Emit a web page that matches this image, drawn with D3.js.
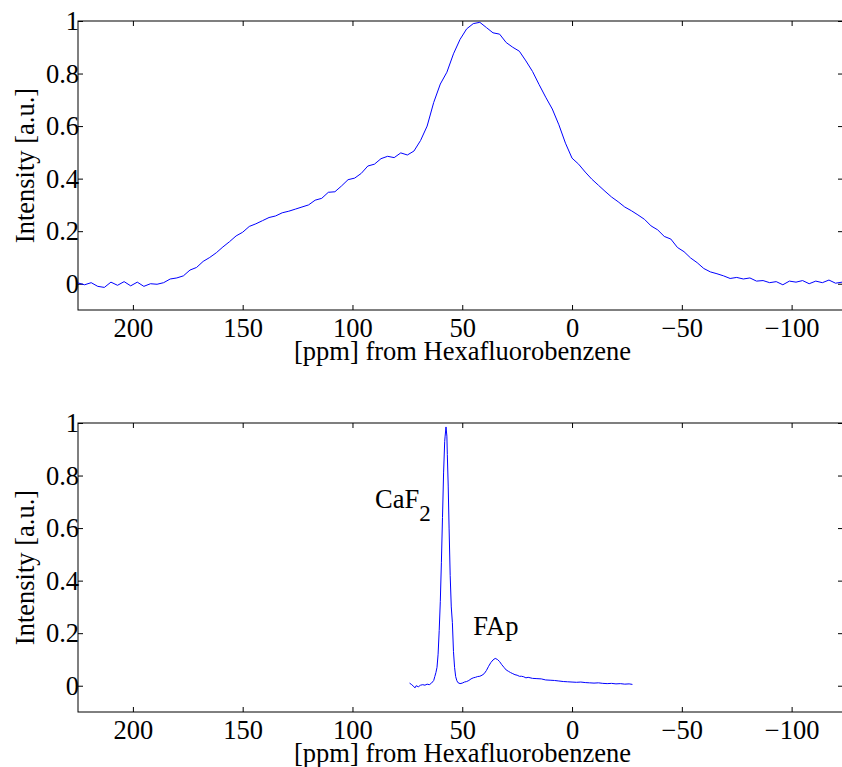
<!DOCTYPE html>
<html>
<head>
<meta charset="utf-8">
<script src="https://cdn.jsdelivr.net/npm/d3@7"></script>
<style>
  body { margin: 0; background: #fff; }
  svg { display: block; }
  text { font-family: "Liberation Serif", "Times New Roman", serif; fill: #000; }
  .domain { display: none; }
</style>
</head>
<body>
<svg></svg>
<script>
// top panel: broad spectrum (ppm, intensity)
let topPpm = [225, 222, 219, 216, 213, 210, 207, 204, 201, 198, 195, 192, 189, 186, 183, 180, 177, 174, 171, 168,
  165, 162, 159, 156, 153, 150, 147, 144, 141, 138, 135, 132, 129, 126, 123, 120, 117, 114, 111, 108,
  105, 102, 99, 96, 93, 90, 87, 84, 81, 78, 75, 72, 69, 66, 63, 60, 57, 54, 51, 48,
  45, 42, 39, 36, 33, 30, 27, 24, 21, 18, 15, 12, 9, 6, 3, 0, -3, -6, -9, -12,
  -15, -18, -21, -24, -27, -30, -33, -36, -39, -42, -45, -48, -51, -54, -57, -60, -63, -66, -69, -72,
  -75, -78, -81, -84, -87, -90, -93, -96, -99, -102, -105, -108, -111, -114, -117, -120, -123]
let topVal = [0.003, -0.004, 0.004, -0.010, -0.014, 0.006, -0.006, 0.008, -0.008, 0.006, -0.010, 0.000, -0.002, 0.004, 0.018, 0.022, 0.030, 0.052, 0.062, 0.085,
  0.100, 0.118, 0.140, 0.160, 0.182, 0.196, 0.218, 0.228, 0.240, 0.252, 0.258, 0.270, 0.276, 0.284, 0.292, 0.300, 0.318, 0.325, 0.348, 0.350,
  0.372, 0.396, 0.402, 0.420, 0.448, 0.455, 0.476, 0.485, 0.480, 0.498, 0.490, 0.505, 0.545, 0.600, 0.690, 0.760, 0.805, 0.875, 0.930, 0.970,
  0.990, 0.995, 0.975, 0.955, 0.950, 0.918, 0.900, 0.885, 0.848, 0.808, 0.758, 0.710, 0.665, 0.605, 0.535, 0.478, 0.455, 0.425, 0.398, 0.375,
  0.352, 0.330, 0.312, 0.292, 0.278, 0.262, 0.245, 0.220, 0.205, 0.180, 0.170, 0.138, 0.122, 0.098, 0.080, 0.058, 0.045, 0.038, 0.030, 0.020,
  0.024, 0.018, 0.022, 0.010, 0.012, 0.004, 0.008, -0.004, 0.010, 0.006, 0.012, 0.000, 0.010, 0.004, 0.014, 0.002, 0.006]

// bottom panel: resolved CaF2 and FAp lines
let botPpm = [74, 73, 72, 71.5, 71, 70, 69, 68, 67, 66, 65, 64, 63, 62.5, 62, 61.5, 61, 60.5, 60, 59.5,
  59, 58.5, 58, 57.8, 57.4, 57, 56.8, 56.4, 56, 55.5, 55, 54.5, 54, 53.5, 53, 52.5, 52, 51, 50, 49,
  48, 47, 46, 45, 44, 43, 42, 41, 40, 39, 38, 37, 36, 35, 34, 33, 32, 31, 30, 29,
  28, 27, 26, 25, 24, 23, 22, 21, 20, 18, 16, 14, 12, 10, 8, 6, 4, 2, 0, -2,
  -4, -6, -8, -10, -12, -14, -16, -18, -20, -22, -24, -26, -27.5]
let botVal = [0.010, 0.004, -0.004, -0.008, 0.000, -0.004, 0.002, 0.004, 0.002, 0.006, 0.004, 0.010, 0.020, 0.035, 0.050, 0.070, 0.120, 0.210, 0.320, 0.470,
  0.640, 0.810, 0.930, 0.950, 0.985, 0.950, 0.880, 0.760, 0.600, 0.420, 0.300, 0.240, 0.130, 0.070, 0.035, 0.020, 0.012, 0.008, 0.010, 0.014,
  0.016, 0.020, 0.026, 0.030, 0.032, 0.035, 0.036, 0.040, 0.046, 0.058, 0.074, 0.088, 0.098, 0.104, 0.100, 0.092, 0.080, 0.070, 0.060, 0.055,
  0.050, 0.046, 0.042, 0.040, 0.036, 0.036, 0.034, 0.030, 0.032, 0.028, 0.027, 0.026, 0.022, 0.021, 0.020, 0.018, 0.016, 0.015, 0.014, 0.013,
  0.014, 0.012, 0.011, 0.010, 0.011, 0.009, 0.008, 0.009, 0.007, 0.008, 0.006, 0.007, 0.005]

let xTicks = [200, 150, 100, 50, 0, -50, -100]
let yTicks = [0, 0.2, 0.4, 0.6, 0.8, 1]
let xLabel = "[ppm] from Hexafluorobenzene"
let yLabel = "Intensity [a.u.]"

let width = 842
let height = 767
let left = 78
let right = 843
let fontSize = 26.5

let svg = d3.select('svg').attr("width", width).attr("height", height)

let fmt = d => d < 0 ? "\u2212" + Math.abs(d) : String(d)

let drawPanel = (top, bottom, ppm, vals) => {
    let xScale = d3.scaleLinear().domain([225, -123.4]).range([left, right])
    let yScale = d3.scaleLinear().domain([-0.1, 1]).range([bottom, top])
    let g = svg.append("g")

    // frame
    g.append("rect").attr("x", left).attr("y", top).attr("width", right - left).attr("height", bottom - top)
     .attr("fill", "none").attr("stroke", "#000").attr("stroke-width", 1)

    // inward ticks on all four sides
    let xb = g.append("g").attr("transform", "translate(0," + bottom + ")")
      .call(d3.axisBottom(xScale).tickValues(xTicks).tickSizeInner(-5).tickSizeOuter(0).tickPadding(8).tickFormat(fmt))
    xb.selectAll("text").attr("font-size", fontSize).attr("dy", "0.71em")
    g.append("g").attr("transform", "translate(0," + top + ")")
      .call(d3.axisTop(xScale).tickValues(xTicks).tickSizeInner(-5).tickSizeOuter(0).tickFormat(""))
    let yl = g.append("g").attr("transform", "translate(" + left + ",0)")
      .call(d3.axisLeft(yScale).tickValues(yTicks).tickSizeInner(-5).tickSizeOuter(0).tickPadding(-1).tickFormat(d3.format("~g")))
    yl.selectAll("text").attr("font-size", fontSize).attr("dy", "0.33em")
    g.append("g").attr("transform", "translate(" + right + ",0)")
      .call(d3.axisRight(yScale).tickValues(yTicks).tickSizeInner(-5).tickSizeOuter(0).tickFormat(""))
    g.selectAll(".tick line").attr("stroke", "#000")
    g.selectAll(".tick text").attr("font-family", "Liberation Serif")

    // axis labels
    g.append("text").attr("x", 462.5).attr("y", bottom + 50)
      .attr("text-anchor", "middle").attr("font-size", fontSize).text(xLabel)
    g.append("text").attr("transform", "translate(34," + (top + bottom) / 2 + ") rotate(-90)")
      .attr("text-anchor", "middle").attr("font-size", fontSize).text(yLabel)

    let line = d3.line().x((d, i) => xScale(ppm[i])).y(d => yScale(d))
    g.append("path").datum(vals).attr("d", line)
      .attr("fill", "none").attr("stroke", "#0000ff").attr("stroke-width", 1)

    return { xScale, yScale, g }
}

drawPanel(21, 310, topPpm, topVal)
let bot = drawPanel(423, 712, botPpm, botVal)

// peak labels
let caf = bot.g.append("text").attr("x", bot.xScale(89.7)).attr("y", bot.yScale(0.676)).attr("font-size", fontSize)
caf.append("tspan").text("CaF")
caf.append("tspan").attr("dy", 13).attr("font-size", 23).text("2")
bot.g.append("text").attr("x", bot.xScale(45)).attr("y", bot.yScale(0.192)).attr("font-size", fontSize).text("FAp")
</script>
</body>
</html>
